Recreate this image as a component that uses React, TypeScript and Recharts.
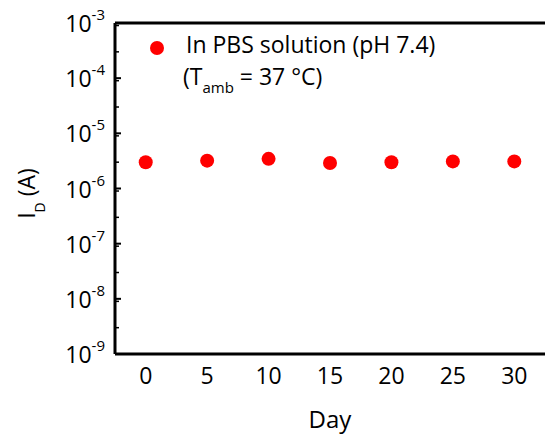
import { ScatterChart, Scatter, XAxis, YAxis, Legend } from "recharts"

const days = [0, 5, 10, 15, 20, 25, 30]
const drainCurrent = [3.0e-6, 3.2e-6, 3.45e-6, 2.9e-6, 3.0e-6, 3.1e-6, 3.1e-6]

const xTicks = [0, 5, 10, 15, 20, 25, 30]
const xMinorTicks = [2.5, 7.5, 12.5, 17.5, 22.5, 27.5]
const yExponents = [-9, -8, -7, -6, -5, -4, -3]
const yMinorFactors = [2, 3, 4, 5, 6, 7, 8, 9]

const yTicks = yExponents.map((e) => Math.pow(10, e))
const yMinorTicks = yExponents
  .slice(0, -1)
  .flatMap((e) => yMinorFactors.map((f) => f * Math.pow(10, e)))

const data = days.map((day, i) => ({ day, id: drainCurrent[i] }))

const FONT = "'Open Sans', sans-serif"

// tick lines only, no labels
const noLabel = () => <g />

function YTick(props: any) {
  const { x, y, payload } = props
  const exp = Math.round(Math.log10(payload.value))
  return (
    <text x={x} y={y + 9} textAnchor="end" fill="#000" fontSize={23} fontFamily={FONT}>
      10
      <tspan dy={-12} fontSize={15}>
        {String(exp)}
      </tspan>
    </text>
  )
}

function YLabel(props: any) {
  const { viewBox } = props
  const x = viewBox.x + 35
  const y = viewBox.y + viewBox.height / 2 + 5
  return (
    <text
      x={x}
      y={y}
      transform={`rotate(-90, ${x}, ${y})`}
      textAnchor="middle"
      fontSize={23}
      fontFamily={FONT}
      fill="#000"
    >
      I
      <tspan dy={10} fontSize={14}>
        D
      </tspan>
      <tspan dy={-10}> (A)</tspan>
    </text>
  )
}

function renderLegend(props: any) {
  const entry = props.payload?.[0]
  if (!entry) return null
  return (
    <svg width={545} height={100} style={{ display: "block" }}>
      <circle cx={157} cy={48} r={7} fill={entry.color} />
      <text x={186} y={53} fontSize={23} fontFamily={FONT} fill="#000">
        {entry.value}
      </text>
      <text x={183} y={85} fontSize={23} fontFamily={FONT} fill="#000">
        (T
        <tspan dy={8} fontSize={15}>
          amb
        </tspan>
        <tspan dy={-8}> = 37 °C)</tspan>
      </text>
    </svg>
  )
}

export default function App() {
  return (
    <div style={{ position: "absolute", left: 0, top: 0, fontFamily: FONT }}>
      <ScatterChart width={545} height={436} margin={{ top: 22, right: 0, bottom: 0, left: 0 }}>
        <XAxis
          xAxisId="x"
          dataKey="day"
          type="number"
          domain={[-2.5, 32.5]}
          allowDataOverflow
          ticks={xTicks}
          tickLine={false}
          tickSize={6}
          tickMargin={8}
          height={82}
          axisLine={{ stroke: "#000", strokeWidth: 3 }}
          tick={{ fill: "#000", fontSize: 23 }}
          label={{ value: "Day", position: "insideBottom", offset: 8, fill: "#000", fontSize: 24 }}
        />
        <XAxis
          xAxisId="xMajor"
          type="number"
          domain={[-2.5, 32.5]}
          allowDataOverflow
          ticks={xTicks}
          mirror
          height={1}
          tick={noLabel}
          axisLine={false}
          tickSize={6}
          tickLine={{ stroke: "#000", strokeWidth: 2 }}
        />
        <XAxis
          xAxisId="xMinor"
          type="number"
          domain={[-2.5, 32.5]}
          allowDataOverflow
          ticks={xMinorTicks}
          mirror
          height={1}
          tick={noLabel}
          axisLine={false}
          tickSize={3}
          tickLine={{ stroke: "#000", strokeWidth: 2 }}
        />
        <XAxis
          xAxisId="top"
          orientation="top"
          type="number"
          domain={[-2.5, 32.5]}
          allowDataOverflow
          height={1}
          tick={false}
          tickLine={false}
          axisLine={{ stroke: "#000", strokeWidth: 3 }}
        />
        <YAxis
          yAxisId="y"
          dataKey="id"
          type="number"
          scale="log"
          domain={[1e-9, 1e-3]}
          allowDataOverflow
          ticks={yTicks}
          tickLine={false}
          tickSize={0}
          tickMargin={10}
          width={115}
          axisLine={{ stroke: "#000", strokeWidth: 3 }}
          tick={<YTick />}
          label={{ content: <YLabel /> }}
        />
        <YAxis
          yAxisId="yMajor"
          type="number"
          scale="log"
          domain={[1e-9, 1e-3]}
          allowDataOverflow
          ticks={yTicks}
          mirror
          width={1}
          tick={noLabel}
          axisLine={false}
          tickSize={6}
          tickLine={{ stroke: "#000", strokeWidth: 2 }}
        />
        <YAxis
          yAxisId="yMinor"
          type="number"
          scale="log"
          domain={[1e-9, 1e-3]}
          allowDataOverflow
          ticks={yMinorTicks}
          mirror
          width={1}
          tick={noLabel}
          axisLine={false}
          tickSize={3}
          tickLine={{ stroke: "#000", strokeWidth: 1.5 }}
        />
        <Legend
          verticalAlign="middle"
          align="center"
          layout="horizontal"
          wrapperStyle={{ top: 0, left: 0, width: 545, height: 100 }}
          content={renderLegend}
        />
        <Scatter
          name="In PBS solution (pH 7.4)"
          data={data}
          xAxisId="x"
          yAxisId="y"
          fill="#ff0000"
          isAnimationActive={false}
          shape={(p: any) => <circle cx={p.cx} cy={p.cy} r={7} fill="#ff0000" />}
        />
      </ScatterChart>
    </div>
  )
}
